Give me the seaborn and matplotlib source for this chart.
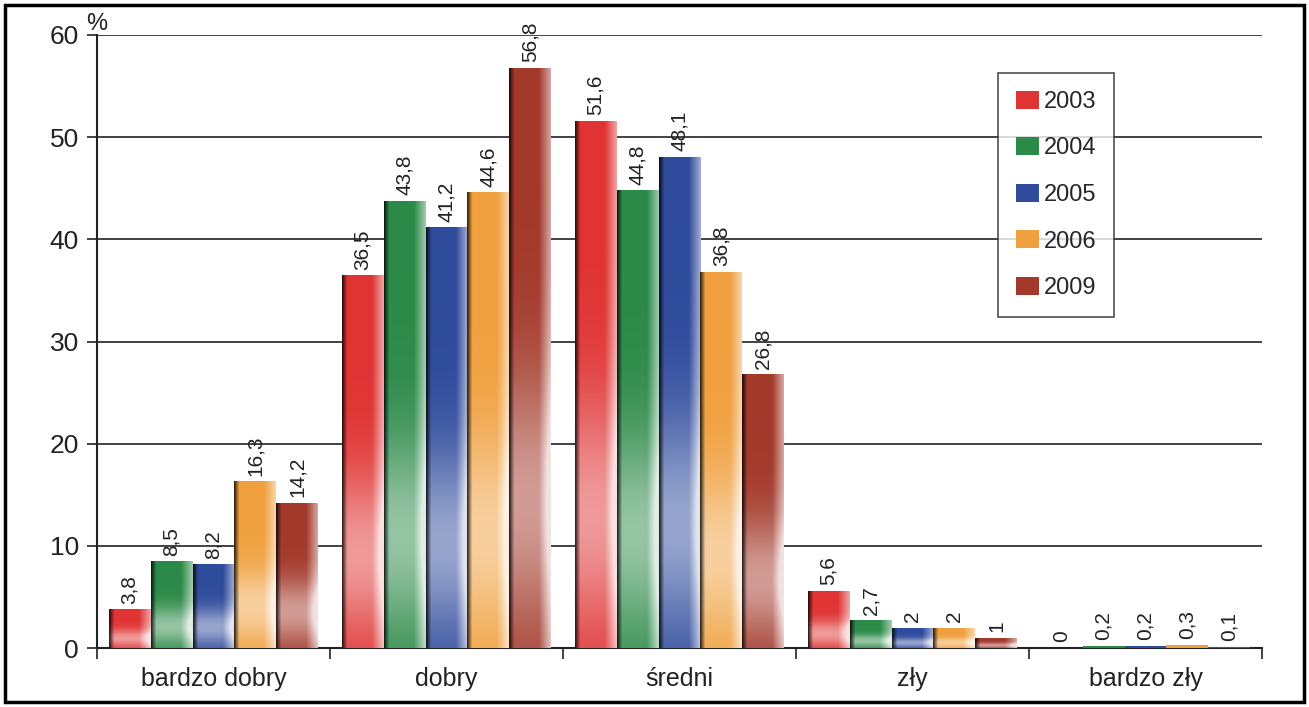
import numpy as np
import pandas as pd
import matplotlib
matplotlib.use("Agg")
import matplotlib.pyplot as plt
import matplotlib.colors as mcolors
from matplotlib.patches import Rectangle, Patch
import seaborn as sns

# data
categories = ["bardzo dobry", "dobry", "średni", "zły", "bardzo zły"]
years = ["2003", "2004", "2005", "2006", "2009"]
v2003 = [3.8, 36.5, 51.6, 5.6, 0]
v2004 = [8.5, 43.8, 44.8, 2.7, 0.2]
v2005 = [8.2, 41.2, 48.1, 2, 0.2]
v2006 = [16.3, 44.6, 36.8, 2, 0.3]
v2009 = [14.2, 56.8, 26.8, 1, 0.1]
colors = ["#e03434", "#2c8a48", "#2f4b9c", "#f0a03e", "#a3392b"]

rows = []
for year, vals in zip(years, [v2003, v2004, v2005, v2006, v2009]):
    for cat, v in zip(categories, vals):
        rows.append({"kategoria": cat, "rok": year, "wartosc": v})
df = pd.DataFrame(rows)

sns.set_theme(style="white")
plt.rcParams["font.family"] = ["Liberation Sans", "DejaVu Sans"]

fig = plt.figure(figsize=(13.09, 7.07), dpi=100)
ax = fig.add_axes([97 / 1309, 1 - 648 / 707, (1262 - 97) / 1309, (648 - 35) / 707])

sns.barplot(data=df, x="kategoria", y="wartosc", hue="rok", order=categories,
            hue_order=years, palette=colors, width=0.9, legend=False,
            saturation=1, ax=ax, linewidth=0, zorder=3)


def shade(rgb, nx=60, ny=200):
    u = np.linspace(0, 1, nx)
    v = np.linspace(0, 1, ny)[:, None]
    # dark left edge, light right edge
    dark = np.clip(0.2 + 0.8 * u / 0.12, 0, 1)
    right = np.clip((u - 0.72) / 0.28, 0, 1) * 0.55
    # pale band low in the bar
    mid = 0.5 * np.exp(-((v - 0.75) / 0.22) ** 2)
    w = np.clip(mid + right[None, :], 0, 0.85)
    c = np.array(rgb)[None, None, :]
    img = c * (1 - w[..., None]) + w[..., None]
    img = img * dark[None, :, None]
    return np.clip(img, 0, 1)


for cont, col in zip(ax.containers, colors):
    rgb = mcolors.to_rgb(col)
    for bar in cont:
        h = bar.get_height()
        x0 = bar.get_x()
        w = bar.get_width()
        if h > 0.5:
            im = ax.imshow(shade(rgb), extent=[x0, x0 + w, 0, h], aspect="auto",
                           zorder=3.5, interpolation="bilinear")
            im.set_clip_path(bar)
        lab = ("%g" % h).replace(".", ",")
        ax.annotate(lab, (x0 + w / 2, h), xytext=(0, 4), textcoords="offset points",
                    rotation=90, ha="center", va="bottom", fontsize=15,
                    color="#222222", zorder=5)

ax.set_xlim(-0.5, 4.5)
ax.set_ylim(0, 60)
ax.set_yticks(range(0, 61, 10))
ax.set_xticks(np.arange(-0.5, 5, 1))
ax.set_xticklabels([])
ax.set_xticks(range(5), minor=True)
ax.set_xticklabels(categories, minor=True, fontsize=18)
ax.tick_params(axis="x", which="major", direction="out", length=8, width=1.2, color="#222222", bottom=True)
ax.tick_params(axis="x", which="minor", length=0, pad=14, colors="#222222")
ax.tick_params(axis="y", direction="out", length=7, width=1.2, left=True, labelsize=19, pad=6, colors="#222222")
ax.yaxis.grid(True, color="#222222", lw=1.2)
ax.set_axisbelow(True)
ax.set_xlabel("")
ax.set_ylabel("")
for s in ["top", "right"]:
    ax.spines[s].set_visible(False)
for s in ["left", "bottom"]:
    ax.spines[s].set_color("#222222")
    ax.spines[s].set_linewidth(1.5)
ax.text(0.0, 1.0, "%", transform=ax.transAxes, fontsize=17, ha="center", va="bottom", color="#222222")

handles = [Patch(facecolor=c, edgecolor="none") for c in colors]
leg = fig.legend(handles, years, loc="upper left", bbox_to_anchor=(998 / 1309, 1 - 73 / 707),
                 fontsize=17, frameon=True, fancybox=False, handlelength=1.0, handleheight=0.8,
                 handletextpad=0.2, labelspacing=1.03, borderpad=0.75, borderaxespad=0)
leg.get_frame().set_edgecolor("#222222")
leg.get_frame().set_linewidth(1.2)

fig.patches.append(Rectangle((5 / 1309, 5 / 707), 1 - 10 / 1309, 1 - 10 / 707,
                             transform=fig.transFigure, fill=False, lw=2.5, edgecolor="black"))

fig.savefig("out.png", dpi=100)
